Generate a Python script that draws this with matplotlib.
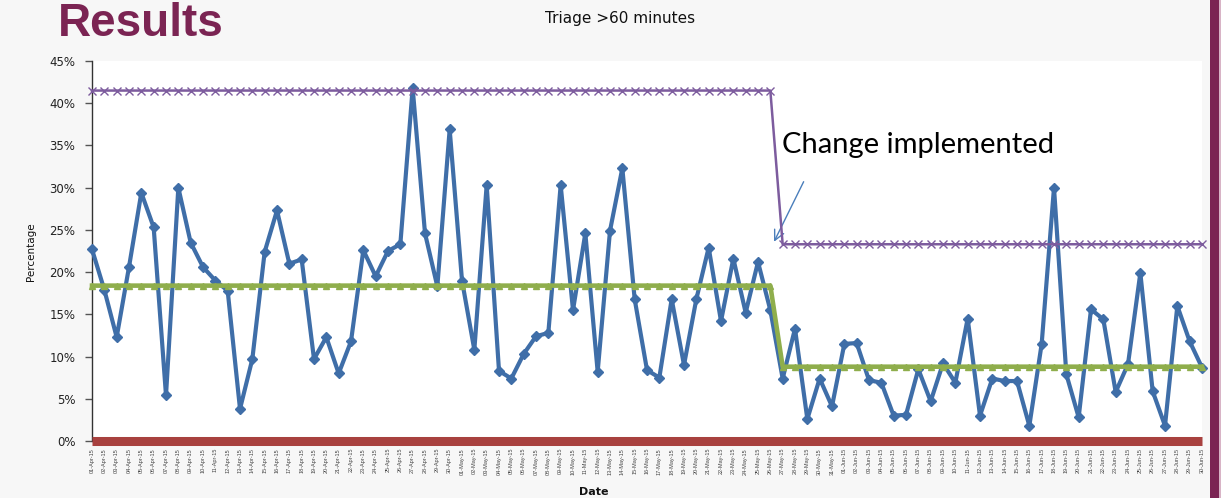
import matplotlib.pyplot as plt
import matplotlib.patches as patches
import numpy as np
import pandas as pd

# daily % of patients waiting > 60 min for triage
dates = pd.date_range("2015-04-01", "2015-06-30", freq="D")
date_labels = [d.strftime("%d-%b-%y") for d in dates]

pct = [
    22.7, 17.9, 12.3, 20.6, 29.4, 25.3, 5.4, 30.0, 23.5, 20.6,
    19.0, 17.8, 3.8, 9.7, 22.4, 27.3, 21.0, 21.5, 9.7, 12.3,
    8.0, 11.8, 22.6, 19.5, 22.5, 23.3, 41.8, 24.6, 18.3, 36.9,
    19.0, 10.8, 30.3, 8.3, 7.4, 10.3, 12.4, 12.8, 30.3, 15.5,
    24.6, 8.2, 24.9, 32.3, 16.8, 8.4, 7.5, 16.8, 9.0, 16.8,
    22.9, 14.2, 21.6, 15.2, 21.2, 15.5, 7.4, 13.3, 2.6, 7.4,
    4.1, 11.5, 11.6, 7.2, 6.9, 3.0, 3.1, 8.5, 4.7, 9.2,
    6.9, 14.5, 3.0, 7.4, 7.1, 7.1, 1.8, 11.5, 30.0, 7.9,
    2.8, 15.6, 14.4, 5.8, 9.1, 19.9, 5.9, 1.8, 16.0, 11.8,
    8.7,
]

# control limits before / after the change (change on 26-May)
change_idx = 56
mean_phase = [18.4, 8.8]
ucl_phase = [41.5, 23.3]
lcl_phase = [0.0, 0.0]

n = len(pct)
x = np.arange(n)
pct = np.array(pct) / 100
mean = np.where(x < change_idx, mean_phase[0], mean_phase[1]) / 100
ucl = np.where(x < change_idx, ucl_phase[0], ucl_phase[1]) / 100
lcl = np.where(x < change_idx, lcl_phase[0], lcl_phase[1]) / 100

W, H = 1221, 498
fig = plt.figure(figsize=(W / 100, H / 100), dpi=100, facecolor="#f7f7f7")
ax = fig.add_axes([92 / W, 1 - 441 / H, (1202 - 92) / W, (441 - 61) / H])
ax.set_facecolor("white")

ax.plot(x, pct, color="#3f6ea8", lw=3, marker="D", ms=5, clip_on=False, zorder=3)
ax.plot(x, mean, color="#8fae4c", lw=3.3, marker="^", ms=4.5, clip_on=False, zorder=4)
ax.plot(x, ucl, color="#7d5c9e", lw=1.8, marker="x", ms=6, mew=1, clip_on=False, zorder=5)
ax.plot(x, lcl, color="#a8413f", lw=6.5, clip_on=False, zorder=6, solid_capstyle="butt")

ax.set_xlim(0, n - 1)
ax.set_ylim(0, 0.45)
ax.set_yticks(np.arange(0, 0.451, 0.05))
ax.set_yticklabels([f"{v:.0f}%" for v in np.arange(0, 46, 5)], fontsize=8.5, color="#222222")
ax.tick_params(axis="y", direction="out", length=5, width=1, color="#555555", pad=7)

ax.set_xticks(x)
ax.set_xticklabels(date_labels, rotation=90, fontsize=4.0, color="#444444",
                   family="Liberation Sans")
ax.tick_params(axis="x", length=0, pad=5)

for s in ["top", "right", "bottom"]:
    ax.spines[s].set_visible(False)
ax.spines["left"].set_color("#333333")
ax.spines["left"].set_linewidth(1)

# annotation
ax.text(55.95, 0.341, "Change implemented", fontsize=21, family="Lato", color="black",
        va="baseline", ha="left")
ax.annotate("", xy=(55.2, 0.233), xytext=(57.8, 0.31),
            arrowprops=dict(arrowstyle="->", color="#4a7ebb", lw=1, mutation_scale=18))

# texts
fig.text(620 / W, 1 - 18 / H, "Triage >60 minutes", fontsize=11, ha="center", va="center",
         color="#111111")
fig.text(31 / W, 1 - 252 / H, "Percentage", fontsize=7.5, rotation=90, ha="center",
         va="center", color="#111111")
fig.text(594 / W, 1 - 492 / H, "Date", fontsize=8, fontweight="bold", ha="center",
         va="center", color="#111111")
fig.text(58 / W, 1 - 36 / H, "Results", fontsize=33, fontweight="bold",
         family="Liberation Sans", color="#7b2453", va="baseline", ha="left")

# slide edge strip
fig.add_artist(patches.Rectangle((1210 / W, 0), 9 / W, 1, transform=fig.transFigure,
                                 color="#7b2453", lw=0))
fig.add_artist(patches.Rectangle((1219 / W, 0), 2 / W, 1, transform=fig.transFigure,
                                 color="#d8b4c6", lw=0))

fig.savefig("out.png", dpi=100, facecolor=fig.get_facecolor())
